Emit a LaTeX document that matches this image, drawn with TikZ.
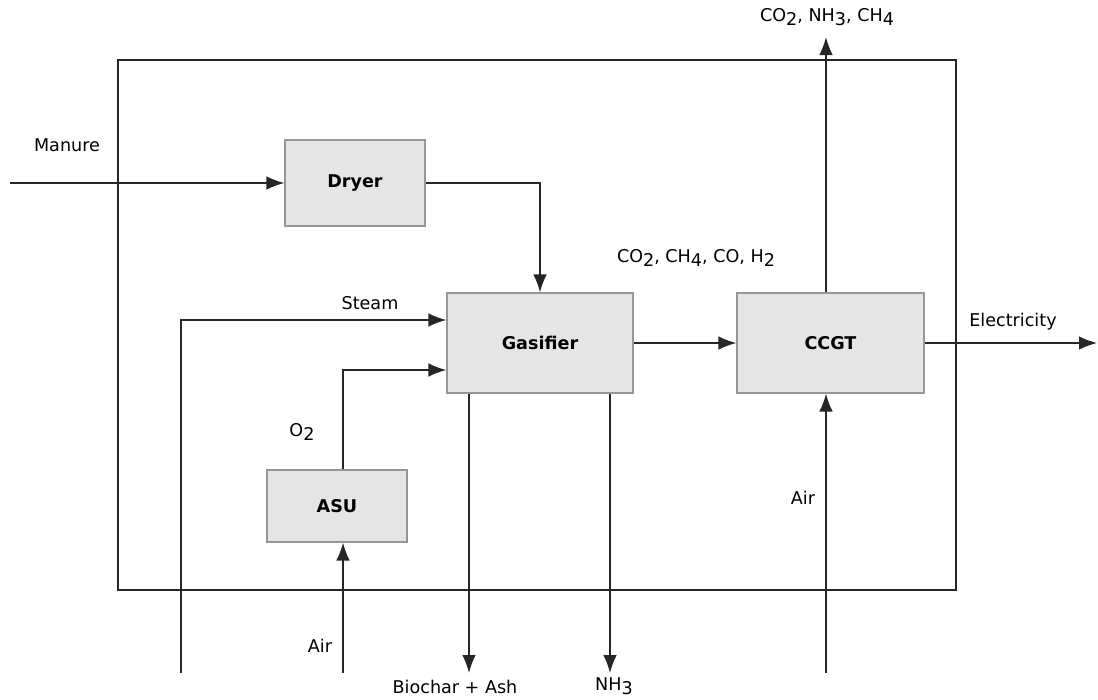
\documentclass[tikz,border=0pt]{standalone}
\usepackage{fontspec}
\setmainfont{DejaVu Sans}
\usetikzlibrary{positioning, arrows.meta}
\definecolor{boxgray}{RGB}{229, 229, 229}
\definecolor{boxline}{RGB}{150, 150, 150}
\newcommand{\lowr}[1]{\raisebox{-0.4ex}{#1}}

\begin{document}
\begin{tikzpicture}[x=0.025cm, y=-0.025cm,
    unitbox/.style={draw=boxline, fill=boxgray, line width=0.8pt,
        inner sep=0pt, align=center,
        font=\fontsize{12.5}{15}\selectfont\bfseries},
    flowlbl/.style={font=\fontsize{12.5}{15}\selectfont, inner sep=1pt},
    arr/.style={-{Latex[length=4.5mm, width=3.4mm]}, line width=1.1pt, black!85}
]
    \useasboundingbox (0, 0) rectangle (1098, 699);

    % plant boundary
    \draw[line width=1.6pt, black!85] (118, 60) rectangle (956, 590);

    \node[unitbox, minimum width=3.5cm, minimum height=2.15cm] (dryer) at (355, 183) {Dryer};
    \node[unitbox, minimum width=4.65cm, minimum height=2.5cm] (gasifier) at (540, 343) {Gasifier};
    \node[unitbox, minimum width=4.675cm, minimum height=2.5cm] (ccgt) at (830.5, 343) {CCGT};
    \node[unitbox, minimum width=3.5cm, minimum height=1.8cm] (asu) at (337, 506) {ASU};

    % free ends
    \coordinate (manure in) at (10, 183);
    \coordinate (steam in) at (181, 673);
    \coordinate (asu air) at (343, 673);
    \coordinate (char out) at (469, 673);
    \coordinate (nh3 out) at (610, 673);
    \coordinate (vent) at (826, 37);
    \coordinate (ccgt air) at (826, 673);
    \coordinate (power) at (1097, 343);

    \draw[arr] (manure in) -- (dryer.west);
    \draw[arr] (dryer.east) -| (gasifier.north);
    \draw[arr] (steam in) |- ([yshift=0.575cm]gasifier.west);
    \draw[arr] ([xshift=0.15cm]asu.north) |- ([yshift=-0.675cm]gasifier.west);
    \draw[arr] (asu air) -- (asu air |- asu.south);
    \draw[arr] (gasifier.south -| char out) -- (char out);
    \draw[arr] (gasifier.south -| nh3 out) -- (nh3 out);
    \draw[arr] (gasifier.east) -- (ccgt.west);
    \draw[arr] (ccgt.north -| vent) -- (vent);
    \draw[arr] (ccgt air) -- (ccgt air |- ccgt.south);
    \draw[arr] (ccgt.east) -- (power);

    % stream labels
    \node[flowlbl] (manure lbl) at (67, 145) {Manure};
    \node[flowlbl] (steam lbl) at (370, 303) {Steam};
    \node[flowlbl] (o2 lbl) at (302, 432) {O\lowr{2}};
    \node[flowlbl] (air lbl a) at (320, 646) {Air};
    \node[flowlbl] (char lbl) at (455, 687) {Biochar + Ash};
    \node[flowlbl] (nh3 lbl) at (614, 686) {NH\lowr{3}};
    \node[flowlbl] (syngas lbl) at (696, 258) {CO\lowr{2}, CH\lowr{4}, CO, H\lowr{2}};
    \node[flowlbl] (flue lbl) at (827, 17) {CO\lowr{2}, NH\lowr{3}, CH\lowr{4}};
    \node[flowlbl] (air lbl b) at (803, 498) {Air};
    \node[flowlbl] (power lbl) at (1013, 322) {Electricity};

\end{tikzpicture}
\end{document}
